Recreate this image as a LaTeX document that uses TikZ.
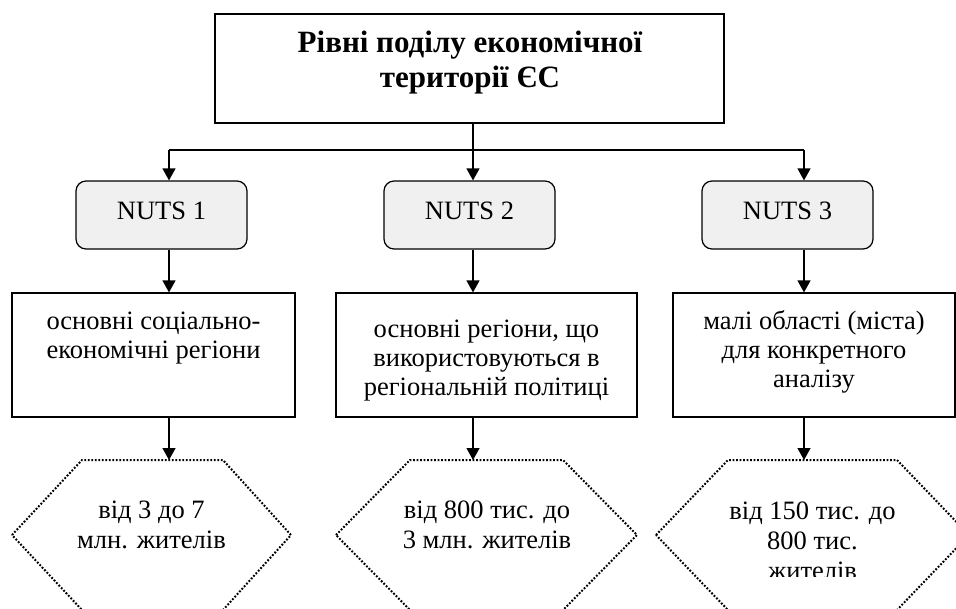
\documentclass[tikz,border=0pt]{standalone}
\usepackage{fontspec}
\setmainfont{Liberation Serif}
\usetikzlibrary{arrows.meta}
\definecolor{nutsfill}{RGB}{240,240,240}
\tikzset{
	frame/.style={draw, line width=1.2pt, inner sep=0pt},
	nutsbox/.style={frame, rounded corners=10pt, fill=nutsfill, minimum width=171pt, minimum height=68pt, text depth=8pt, font=\fontsize{26.5}{30}\selectfont},
	levelbox/.style={frame, minimum height=124pt},
	txt/.style={align=center, inner sep=0pt, anchor=base, font=\fontsize{26.5}{29}\selectfont},
	hexline/.style={line width=2pt, dash pattern=on 1.8pt off 1.7pt},
	arr/.style={-{Triangle[length=12pt,width=13pt]}, line width=1.3pt},
}
\begin{document}
\begin{tikzpicture}[x=1pt, y=-1pt]
		\useasboundingbox (0,0) rectangle (956,608);
		\clip (0,0) rectangle (956,608);
		\node[frame, minimum width=509pt, minimum height=109pt] (title) at (469.5,68.5) {};
		\node[txt, font=\fontsize{31}{35}\selectfont\bfseries] (titletext) at (470,87) {Рівні поділу економічної\\території ЄС};
		\coordinate (j1) at (169,150);
		\coordinate (j2) at (473,150);
		\coordinate (j3) at (804,150);
		\node[nutsbox] (nuts1) at (161.5,215) {NUTS 1};
		\node[nutsbox] (nuts2) at (469.5,215) {NUTS 2};
		\node[nutsbox] (nuts3) at (787.5,215) {NUTS 3};
		\node[levelbox, minimum width=283pt] (lev1) at (153.5,355) {};
		\node[levelbox, minimum width=301pt] (lev2) at (486.5,355) {};
		\node[levelbox, minimum width=282pt] (lev3) at (814,355) {};
		\node[txt] (lev1text) at (153.5,358) {основні соціально-\\економічні регіони};
		\node[txt] (lev2text) at (486.5,395) {основні регіони, що\\використовуються в\\регіональній політиці};
		\node[txt] (lev3text) at (814,387) {малі області (міста)\\для конкретного\\аналізу};
		\foreach \l/\a/\b/\r in {12/82/223/291, 336/410/563/637, 656/728/897/969}
		\draw[hexline] (\l,535) -- (\a,460) -- (\b,460) -- (\r,535) -- (\b,610) -- (\a,610) -- cycle;
		\coordinate (pop1) at (169,460);
		\coordinate (pop2) at (473,460);
		\coordinate (pop3) at (804,460);
		\node[txt, font=\fontsize{26.5}{30}\selectfont] (pop1text) at (151.5,548) {від 3 до 7\\млн. жителів};
		\node[txt, font=\fontsize{26.5}{30}\selectfont] (pop2text) at (487,548) {від 800 тис. до\\3 млн. жителів};
		\begin{scope}
		\clip (640,440) rectangle (956,576);
		\node[txt, font=\fontsize{26.5}{30}\selectfont] (pop3text) at (812.5,579) {від 150 тис. до\\800 тис.\\жителів};
		\end{scope}
		\draw[line width=1.3pt] (j1) -- (j3);
		\draw[arr] (title.south -| j2) -- (j2 |- nuts2.north);
		\draw[arr] (j1) -- (j1 |- nuts1.north);
		\draw[arr] (j3) -- (j3 |- nuts3.north);
		\foreach \i in {1,2,3} {
		\draw[arr] (nuts\i.south -| j\i) -- (lev\i.north -| j\i);
		\draw[arr] (lev\i.south -| j\i) -- (pop\i);
		}
\end{tikzpicture}
\end{document}
